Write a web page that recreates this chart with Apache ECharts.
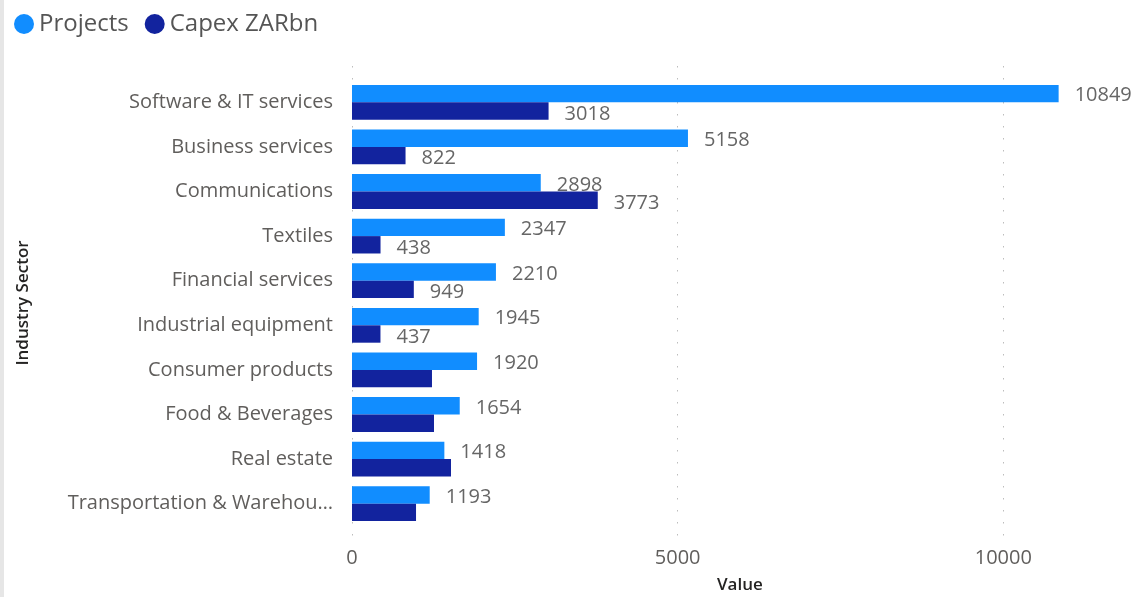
<!DOCTYPE html>
<html>
<head>
<meta charset="utf-8">
<script src="https://cdn.jsdelivr.net/npm/echarts@6/dist/echarts.min.js"></script>
<style>
  html, body { margin: 0; padding: 0; background: #ffffff; }
  #chart { width: 1147px; height: 597px; box-sizing: border-box; border-left: 4px solid #e6e6e6; }
</style>
</head>
<body>
<div id="chart"></div>
<script>
// Industry sectors, top to bottom
const sectors = [
  'Software & IT services',
  'Business services',
  'Communications',
  'Textiles',
  'Financial services',
  'Industrial equipment',
  'Consumer products',
  'Food & Beverages',
  'Real estate',
  'Transportation & Warehousing'
];
// Number of projects per sector
const projects = [10849, 5158, 2898, 2347, 2210, 1945, 1920, 1654, 1418, 1193];
// Capital expenditure, ZAR billions
const capex = [3018, 822, 3773, 438, 949, 437, 1228, 1259, 1520, 983];
// Which capex bars carry a value label
const capexLabelled = [true, true, true, true, true, true, false, false, false, false];
const xTicks = [0, 5000, 10000];

const FONT = '"Open Sans", "Noto Sans", sans-serif';
const TEXT = '#605E5C';

const chart = echarts.init(document.getElementById('chart'), null, { renderer: 'canvas' });

const plotLeft = 348;
const plotWidth = 977;
const xMax = 15000;

chart.setOption({
  animation: false,
  textStyle: { fontFamily: FONT },
  legend: {
    left: 5, top: 7,
    icon: 'circle',
    itemWidth: 20, itemHeight: 20, itemGap: 16,
    textStyle: { fontSize: 24, color: '#555555', fontFamily: FONT },
    data: ['Projects', 'Capex ZARbn']
  },
  grid: [
    { left: plotLeft, top: 80, width: plotWidth, height: 446, outerBoundsMode: 'none', containLabel: false },
    { left: plotLeft, top: 66, width: plotWidth, height: 472, outerBoundsMode: 'none', containLabel: false }
  ],
  xAxis: [
    {
      gridIndex: 0, type: 'value', min: 0, max: xMax, interval: 5000,
      axisLine: { show: false }, axisTick: { show: false }, splitLine: { show: false },
      axisLabel: {
        fontSize: 20, color: TEXT, margin: 22,
        formatter: v => (xTicks.indexOf(v) >= 0 ? String(v) : '')
      }
    },
    {
      gridIndex: 1, type: 'value', min: 0, max: xMax, interval: 5000,
      axisLine: { show: false }, axisTick: { show: false }, axisLabel: { show: false },
      splitLine: { show: true, lineStyle: { color: '#bdbdbd', width: 1, type: [1.5, 10.5] } }
    }
  ],
  yAxis: [
    {
      gridIndex: 0, type: 'category', data: sectors, inverse: true,
      axisLine: { show: false }, axisTick: { show: false },
      axisLabel: {
        fontSize: 20, color: TEXT, margin: 19,
        width: 273, overflow: 'truncate', ellipsis: '…'
      },
      name: 'Industry Sector', nameLocation: 'middle', nameRotate: 90, nameGap: 320,
      nameTextStyle: { fontSize: 17, fontWeight: 600, color: '#252423', fontFamily: FONT }
    },
    {
      gridIndex: 1, type: 'category', data: sectors, show: false
    }
  ],
  graphic: [{
    type: 'text', left: 713, top: 577,
    style: { text: 'Value', fontSize: 17, fontWeight: 600, fill: '#252423', fontFamily: FONT }
  }],
  series: [
    {
      name: 'Projects', type: 'bar', xAxisIndex: 0, yAxisIndex: 0,
      data: projects,
      itemStyle: { color: '#118DFF' },
      barGap: '0%', barCategoryGap: '22%',
      label: { show: true, position: 'right', distance: 16, offset: [0, 2], fontSize: 20, color: '#666666', fontFamily: FONT }
    },
    {
      name: 'Capex ZARbn', type: 'bar', xAxisIndex: 0, yAxisIndex: 0,
      data: capex.map((v, i) => ({ value: v, label: { show: capexLabelled[i] } })),
      itemStyle: { color: '#12239E' },
      barGap: '0%', barCategoryGap: '22%',
      label: { show: true, position: 'right', distance: 16, offset: [0, 3], fontSize: 20, color: '#666666', fontFamily: FONT }
    }
  ]
});
</script>
</body>
</html>
